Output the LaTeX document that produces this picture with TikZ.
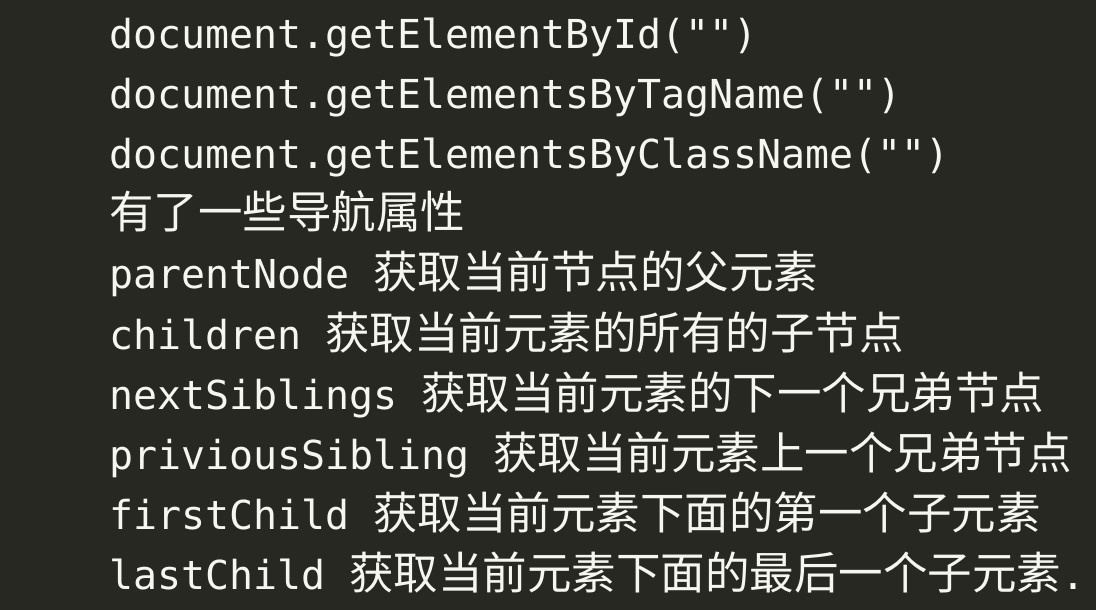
\documentclass[tikz,border=0pt]{standalone}
\usepackage{fontspec}
\usepackage{xcolor}
\usetikzlibrary{positioning}

\newfontfamily\codefont{DejaVu Sans Mono}
\newfontfamily\cjk{Noto Sans CJK SC}
\newcommand{\code}[1]{{\codefont\fontsize{39.9bp}{60bp}\selectfont #1}}
\newcommand{\zh}[1]{{\cjk\fontsize{44.5bp}{60bp}\selectfont #1}}

\definecolor{bgdark}{RGB}{39,40,34}
\definecolor{codewhite}{RGB}{246,246,240}

\begin{document}
\begin{tikzpicture}[x=1bp,y=-1bp,
  codeline/.style={anchor=base west, inner sep=0pt, outer sep=0pt, text=codewhite}]

\useasboundingbox (0,0) rectangle (1096,610);
\fill[bgdark] (0,0) rectangle (1096,610);

\node[codeline] (byid) at (109,49) {\code{document.getElementById("")}};
\node[codeline] (bytag) at (109,109) {\code{document.getElementsByTagName("")}};
\node[codeline] (byclass) at (109,169) {\code{document.getElementsByClassName("")}};
\node[codeline] (nav) at (109,229) {\zh{有了一些导航属性}};
\node[codeline] (parent) at (109,289) {\code{parentNode\ }\zh{获取当前节点的父元素}};
\node[codeline] (children) at (109,349) {\code{children\ }\zh{获取当前元素的所有的子节点}};
\node[codeline] (next) at (109,409) {\code{nextSiblings\ }\zh{获取当前元素的下一个兄弟节点}};
\node[codeline] (prev) at (109,469) {\code{priviousSibling\ }\zh{获取当前元素上一个兄弟节点}};
\node[codeline] (first) at (109,529) {\code{firstChild\ }\zh{获取当前元素下面的第一个子元素}};
\node[codeline] (last) at (109,589) {\code{lastChild\ }\zh{获取当前元素下面的最后一个子元素}\code{.}};

\end{tikzpicture}
\end{document}
